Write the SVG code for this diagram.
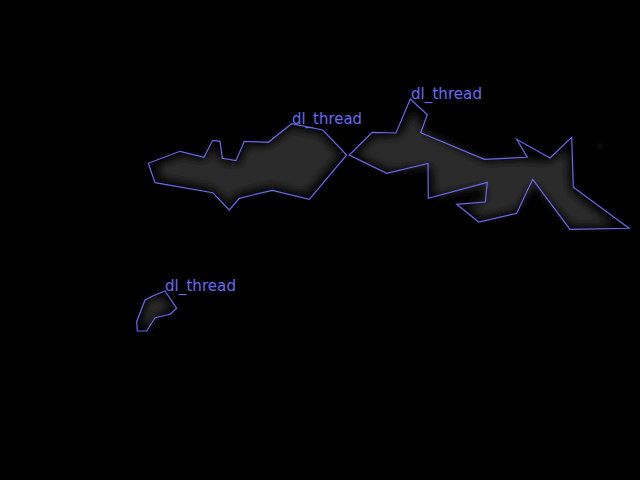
<svg xmlns="http://www.w3.org/2000/svg" width="640" height="480" viewBox="0 0 640 480">
<style>
.outline{fill:none;stroke:#6868f0;stroke-width:1.2;stroke-linejoin:miter}
.blob{fill:#2c2c2c;filter:url(#blur)}
.lbl{font-family:"DejaVu Sans","Liberation Sans",sans-serif;font-size:15px;fill:#6a6af2}
</style>
<defs>
<filter id="blur" x="-20%" y="-20%" width="140%" height="140%"><feGaussianBlur stdDeviation="5"/></filter>
</defs>
<rect width="640" height="480" fill="#000"/>
<g id="shading">
<path class="blob" d="M158,165 L182,156 L205,160 L214,146 L222,162 L240,164 L246,146 L268,146 L292,128 L320,134 L340,155 L306,194 L272,186 L238,193 L229,203 L212,188 L160,178 Z"/>
<path class="blob" d="M356,154 L375,137 L400,136 L414,110 L424,132 L486,162 L524,160 L548,162 L568,150 L570,190 L615,226 L572,226 L534,184 L516,210 L482,218 L466,206 L486,200 L484,186 L434,196 L432,166 L388,170 Z"/>
<path class="blob" d="M142,322 L147,302 L160,296 L172,307 L156,316 L148,328 Z"/>
<ellipse cx="600" cy="146" rx="8" ry="4" fill="#111" filter="url(#blur)"/>
</g>
<g id="region1">
<polygon class="outline" points="148.3,163.3 180,151.3 204,157.3 212.7,140.3 220,141.3 222.3,158.3 236,160.7 244.3,141.3 268.3,142.3 291.7,123.7 322.7,130 346.7,155 309.3,199.3 272.3,190.3 239.3,198.3 229.3,210 212.7,192.7 155,182.7"/>
<text class="lbl" x="292" y="124" textLength="70" lengthAdjust="spacingAndGlyphs">dl_thread</text>
</g>
<g id="region2">
<polygon class="outline" points="349.3,155 372.3,132.3 396,133 410.3,99 427.3,114.7 420.7,132.7 484.3,159.3 527.3,157.3 516.7,139.3 550,158 571.7,137.3 573.3,187.3 629,228.3 570,229.3 532.7,179.3 516.7,213.3 478.7,222 456.7,204.3 485.3,202 487.3,182.3 428.3,198.3 428,163.5 386.7,173.3"/>
<text class="lbl" x="411" y="99" textLength="71" lengthAdjust="spacingAndGlyphs">dl_thread</text>
</g>
<g id="region3">
<polygon class="outline" points="165,291 176.7,308.3 170,314.3 155,317.7 146.7,331 137.3,331 136.7,321.7 145,300 153.3,295.7"/>
<text class="lbl" x="165" y="291" textLength="71" lengthAdjust="spacingAndGlyphs">dl_thread</text>
</g>
<g id="connectors"/>
</svg>
